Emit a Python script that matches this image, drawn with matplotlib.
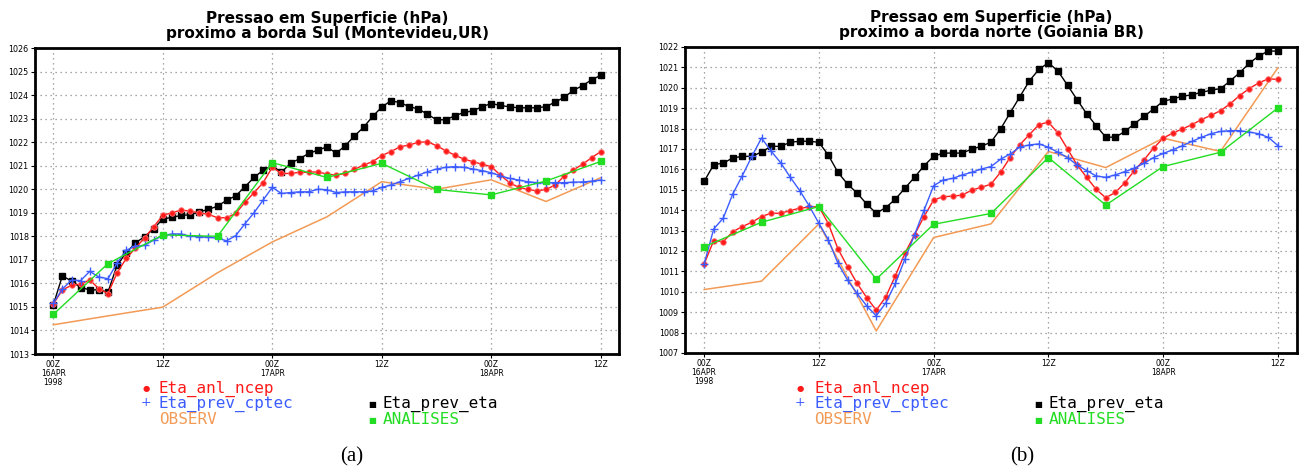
import matplotlib
matplotlib.use("Agg")
import matplotlib.pyplot as plt

# ---------------- data ----------------
hours = list(range(61))
hours6 = list(range(0, 61, 6))

tick_hours = [0, 12, 24, 36, 48, 60]
tick_labels = ["00Z\n16APR\n1998", "12Z", "00Z\n17APR", "12Z", "00Z\n18APR", "12Z"]

series_names = ["Eta_anl_ncep", "Eta_prev_cptec", "OBSERV", "Eta_prev_eta", "ANALISES"]

titles_a = ["Pressao em Superficie (hPa)", "proximo a borda Sul (Montevideu,UR)"]
titles_b = ["Pressao em Superficie (hPa)", "proximo a borda norte (Goiania BR)"]

# panel (a)
a_prev_eta = [1015.08, 1016.32, 1016.10, 1015.82, 1015.73, 1015.72, 1015.63, 1016.78, 1017.30, 1017.72,
              1017.98, 1018.32, 1018.74, 1018.80, 1018.89, 1018.91, 1019.04, 1019.14, 1019.28, 1019.53,
              1019.72, 1020.10, 1020.50, 1020.81, 1021.00, 1020.72, 1021.10, 1021.30, 1021.52, 1021.66,
              1021.80, 1021.53, 1021.85, 1022.26, 1022.63, 1023.09, 1023.49, 1023.76, 1023.68, 1023.51,
              1023.41, 1023.19, 1022.95, 1022.95, 1023.12, 1023.26, 1023.33, 1023.51, 1023.64, 1023.56,
              1023.50, 1023.46, 1023.46, 1023.46, 1023.51, 1023.70, 1023.91, 1024.20, 1024.40, 1024.65,
              1024.84]
a_anl_ncep = [1015.12, 1015.72, 1015.92, 1015.97, 1016.15, 1015.77, 1015.57, 1016.45, 1017.06, 1017.50,
              1017.93, 1018.40, 1018.89, 1019.00, 1019.11, 1019.07, 1019.00, 1018.93, 1018.79, 1018.79,
              1018.97, 1019.44, 1019.85, 1020.28, 1020.93, 1020.67, 1020.67, 1020.72, 1020.72, 1020.74,
              1020.64, 1020.60, 1020.67, 1020.84, 1021.03, 1021.17, 1021.43, 1021.60, 1021.80, 1021.88,
              1021.99, 1022.02, 1021.85, 1021.64, 1021.45, 1021.28, 1021.17, 1021.06, 1020.96, 1020.60,
              1020.28, 1020.08, 1019.99, 1019.93, 1019.99, 1020.18, 1020.56, 1020.82, 1021.06, 1021.34,
              1021.60]
a_prev_cptec = [1015.15, 1015.76, 1016.14, 1016.12, 1016.51, 1016.27, 1016.20, 1016.87, 1017.41, 1017.58,
                1017.61, 1017.84, 1018.02, 1018.10, 1018.10, 1018.00, 1017.99, 1017.96, 1017.92, 1017.81,
                1018.03, 1018.53, 1019.00, 1019.54, 1020.08, 1019.82, 1019.86, 1019.89, 1019.89, 1020.00,
                1019.98, 1019.86, 1019.89, 1019.89, 1019.89, 1019.93, 1020.08, 1020.18, 1020.32, 1020.46,
                1020.60, 1020.74, 1020.86, 1020.93, 1020.96, 1020.93, 1020.86, 1020.79, 1020.70, 1020.57,
                1020.46, 1020.39, 1020.32, 1020.28, 1020.28, 1020.28, 1020.28, 1020.30, 1020.31, 1020.34,
                1020.39]
a_analises = [1014.68, 1016.84, 1018.06, 1018.00, 1021.13, 1020.50, 1021.10, 1019.99, 1019.76, 1020.35, 1021.18]
a_observ = [1014.24, 1014.62, 1014.99, 1016.45, 1017.76, 1018.83, 1020.32, 1020.00, 1020.40, 1019.48, 1020.49]

# panel (b)
b_prev_eta = [1015.41, 1016.23, 1016.31, 1016.56, 1016.64, 1016.64, 1016.85, 1017.13, 1017.13, 1017.33,
              1017.38, 1017.38, 1017.33, 1016.69, 1015.85, 1015.28, 1014.84, 1014.30, 1013.85, 1014.13,
              1014.54, 1015.08, 1015.61, 1016.18, 1016.64, 1016.80, 1016.80, 1016.80, 1017.00, 1017.13,
              1017.34, 1017.98, 1018.77, 1019.55, 1020.33, 1020.90, 1021.23, 1020.82, 1020.13, 1019.42,
              1018.73, 1018.14, 1017.58, 1017.58, 1017.86, 1018.24, 1018.60, 1018.96, 1019.34, 1019.45,
              1019.59, 1019.65, 1019.78, 1019.88, 1019.96, 1020.33, 1020.74, 1021.20, 1021.56, 1021.80,
              1021.80]
b_anl_ncep = [1011.36, 1012.51, 1012.46, 1012.95, 1013.20, 1013.41, 1013.69, 1013.85, 1013.85, 1013.98,
              1014.10, 1014.15, 1014.18, 1013.33, 1012.10, 1011.23, 1010.41, 1009.72, 1009.10, 1009.75,
              1010.79, 1011.89, 1012.79, 1013.69, 1014.50, 1014.66, 1014.69, 1014.74, 1014.99, 1015.12,
              1015.28, 1015.86, 1016.58, 1017.20, 1017.70, 1018.19, 1018.32, 1017.78, 1017.00, 1016.22,
              1015.61, 1015.02, 1014.61, 1014.87, 1015.35, 1015.94, 1016.47, 1017.04, 1017.53, 1017.78,
              1017.98, 1018.19, 1018.44, 1018.65, 1018.88, 1019.21, 1019.62, 1019.96, 1020.24, 1020.44,
              1020.41]
b_prev_cptec = [1011.36, 1013.08, 1013.61, 1014.80, 1015.70, 1016.64, 1017.54, 1016.90, 1016.33, 1015.62,
                1014.96, 1014.20, 1013.36, 1012.54, 1011.39, 1010.57, 1009.92, 1009.31, 1008.82, 1009.46,
                1010.41, 1011.61, 1012.79, 1014.00, 1015.20, 1015.48, 1015.56, 1015.73, 1015.86, 1016.02,
                1016.14, 1016.50, 1016.75, 1017.09, 1017.20, 1017.25, 1017.09, 1016.84, 1016.58, 1016.22,
                1015.94, 1015.68, 1015.61, 1015.73, 1015.89, 1016.06, 1016.30, 1016.58, 1016.78, 1016.96,
                1017.16, 1017.37, 1017.57, 1017.75, 1017.86, 1017.90, 1017.90, 1017.83, 1017.75, 1017.57,
                1017.17]
b_analises = [1012.21, 1013.41, 1014.18, 1010.62, 1013.31, 1013.84, 1016.58, 1014.25, 1016.14, 1016.84, 1019.01]
b_observ = [1010.11, 1010.52, 1013.33, 1008.08, 1012.66, 1013.33, 1016.88, 1016.09, 1017.53, 1016.88, 1020.98]

# ---------------- style ----------------
C_RED = "#ff1a1a"
C_BLUE = "#3c5cff"
C_ORANGE = "#f39a55"
C_BLACK = "#000000"
C_GREEN = "#22dd22"

fig = plt.figure(figsize=(13, 4.72), dpi=100)


def panel(rect, ylim, titles, anl, cptec, obs, eta, anal, caption, legx):
    ax = fig.add_axes(rect)
    ax.plot(hours6, obs, color=C_ORANGE, lw=1.1, zorder=2)
    ax.plot(hours, eta, color=C_BLACK, lw=1.0, marker="s", ms=4.3, zorder=3)
    ax.plot(hours, anl, color=C_RED, lw=1.0, marker="o", ms=4.0, mfc=C_RED,
            mec="#ff7070", mew=0.6, zorder=4)
    ax.plot(hours, cptec, color=C_BLUE, lw=1.0, marker="+", ms=5.2, mew=1.0, zorder=5)
    ax.plot(hours6, anal, color=C_GREEN, lw=1.0, marker="s", ms=5.0, zorder=6)

    ax.set_xlim(-2, 62)
    ax.set_ylim(*ylim)
    ax.set_xticks(tick_hours)
    ax.set_xticklabels(tick_labels, fontsize=5.5, linespacing=0.95)
    ax.set_yticks(range(ylim[0], ylim[1] + 1))
    ax.set_yticklabels([str(v) for v in range(ylim[0], ylim[1] + 1)], fontsize=5.8)
    ax.tick_params(axis="both", length=3, width=0.8, pad=1.5)
    ax.grid(True, color="#8a8a8a", linestyle=(0, (1, 3)), lw=0.9)
    for s in ax.spines.values():
        s.set_linewidth(2.0)
        s.set_color("black")
    ax.set_title(titles[0] + "\n" + titles[1], fontsize=11, fontweight="bold",
                 linespacing=1.0, pad=7)

    def fx(px):
        return px / 1300.0

    def fy(py):
        return 1 - py / 472.0

    fs = 11.5
    mono = "DejaVu Sans Mono"
    fig.text(fx(legx[0]), fy(389), "\u25cf", color=C_RED, fontsize=6, ha="center", va="center")
    fig.text(fx(legx[1]), fy(389), series_names[0], color=C_RED, fontsize=fs, va="center", family=mono)
    fig.text(fx(legx[0]), fy(403), "+", color=C_BLUE, fontsize=9, ha="center", va="center")
    fig.text(fx(legx[1]), fy(404), series_names[1], color=C_BLUE, fontsize=fs, va="center", family=mono)
    fig.text(fx(legx[1]), fy(420), series_names[2], color=C_ORANGE, fontsize=fs, va="center", family=mono)
    fig.text(fx(legx[2]), fy(404), "\u25a0", color=C_BLACK, fontsize=6, ha="center", va="center")
    fig.text(fx(legx[3]), fy(404), series_names[3], color=C_BLACK, fontsize=fs, va="center", family=mono)
    fig.text(fx(legx[2]), fy(420), "\u25a0", color=C_GREEN, fontsize=6, ha="center", va="center")
    fig.text(fx(legx[3]), fy(420), series_names[4], color=C_GREEN, fontsize=fs, va="center", family=mono)
    fig.text(fx(legx[4]), fy(457), caption, fontsize=15, family="Liberation Serif",
             ha="center", va="center")
    return ax


panel([35 / 1300, 1 - 354 / 472, 584 / 1300, 306 / 472], (1013, 1026), titles_a,
      a_anl_ncep, a_prev_cptec, a_observ, a_prev_eta, a_analises, "(a)",
      (146, 159, 372, 383, 352))
panel([685 / 1300, 1 - 353 / 472, 612 / 1300, 306 / 472], (1007, 1022), titles_b,
      b_anl_ncep, b_prev_cptec, b_observ, b_prev_eta, b_analises, "(b)",
      (800, 814, 1038, 1049, 1022))

fig.savefig("out.png", dpi=100)
